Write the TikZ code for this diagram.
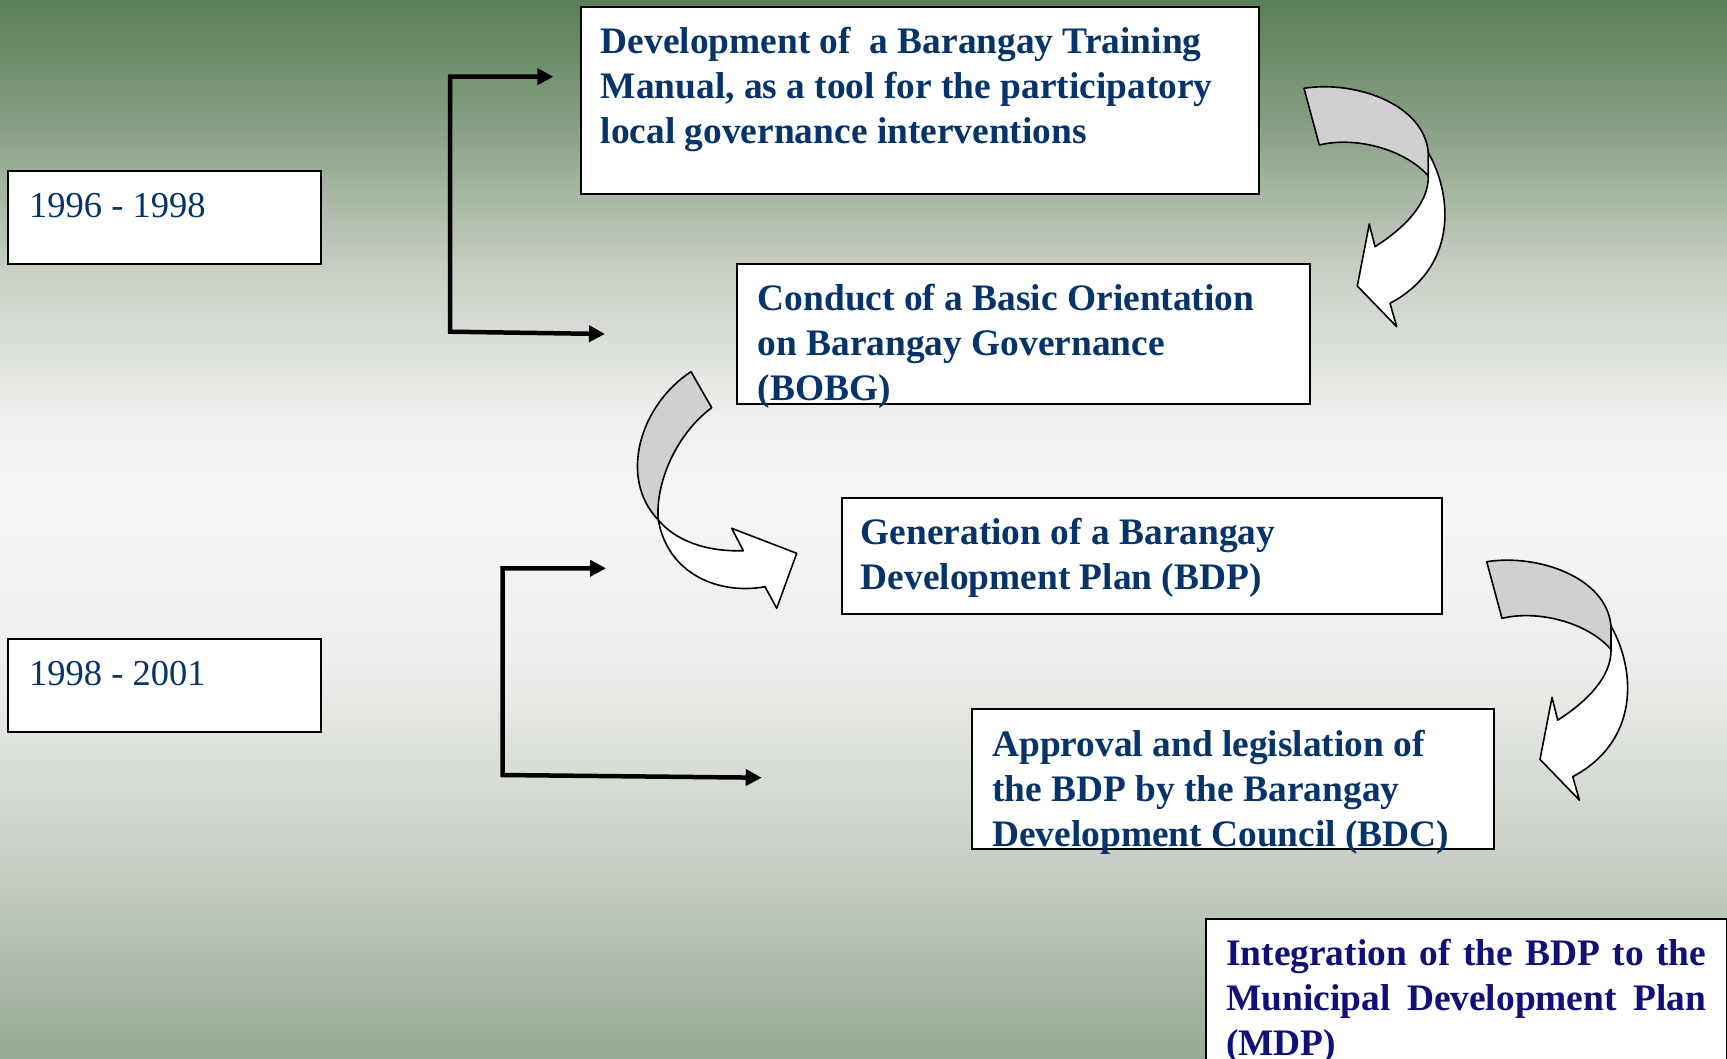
\documentclass[tikz,border=0pt]{standalone}
\usepackage{fontspec}
\setmainfont{Liberation Serif}
\usetikzlibrary{arrows.meta}
\definecolor{tblue}{HTML}{06346A}
\definecolor{tnavy}{HTML}{101078}
\definecolor{fold}{HTML}{D0D0D0}
\definecolor{bgc0}{HTML}{98A896}
\definecolor{bgc1}{HTML}{C4CBC1}
\definecolor{bgc2}{HTML}{EEEFED}
\definecolor{bgc3}{HTML}{F5F5F5}
\definecolor{bgc4}{HTML}{F0F1EF}
\definecolor{bgc5}{HTML}{C6CDC2}
\definecolor{bgc6}{HTML}{809B7D}
\definecolor{bgc7}{HTML}{5A7F56}
\pgfdeclareverticalshading{bgshade}{100bp}{color(0bp)=(bgc0); color(25bp)=(bgc0); color(33.4bp)=(bgc1); color(43.8bp)=(bgc2); color(51.4bp)=(bgc3); color(55.15bp)=(bgc4); color(62.5bp)=(bgc5); color(69.8bp)=(bgc6); color(75bp)=(bgc7); color(100bp)=(bgc7)}
\tikzset{
  box/.style={draw=black, line width=2pt, fill=white, inner sep=0pt, anchor=north west},
  btxt/.style={inner sep=0pt, anchor=base west, text=tblue, font=\bfseries\fontsize{37.4}{45}\selectfont},
  ytxt/.style={inner sep=0pt, anchor=base west, text=tblue, font=\fontsize{36.5}{43}\selectfont},
  elbow/.style={line width=4.5pt, {Triangle[length=16pt,width=16pt]}-{Triangle[length=16pt,width=16pt]}},
  bandfold/.style={fill=fold, draw=black, line width=1.6pt, line join=round},
  bandfront/.style={fill=white, draw=black, line width=1.6pt, line join=round},
  curvedR/.pic={
    \path[bandfold] (0,0) .. controls (50,-8) and (120,15) .. (124.3,64.4)
      -- (124.3,87.7) .. controls (100,60) and (50,48) .. (15.3,56.7) -- cycle;
    \path[bandfront] (124.3,64.4) .. controls (150,110) and (152,180) .. (86,215)
      -- (92.7,238.4) -- (53.3,197.7) -- (65.3,135.7) -- (71,158.4)
      .. controls (100,140) and (125,115) .. (124.3,87.7) -- cycle;
  }
}
\begin{document}
\begin{tikzpicture}[x=1pt,y=-1pt]
\useasboundingbox (0,0) rectangle (1727,1058);
\shade[shading=bgshade] (0,0) rectangle (1727,1058);

% year boxes
\node[box, minimum width=312.7pt, minimum height=92.7pt] (yr1) at (7.3,170) {};
\node[box, minimum width=312.7pt, minimum height=93.6pt] (yr2) at (7.3,637.7) {};
\node[ytxt] (yt1) at (29,217.8) {1996 - 1998};
\node[ytxt] (yt2) at (29,685.5) {1998 - 2001};

% step boxes
\node[box, minimum width=677.5pt, minimum height=187pt] (bA) at (580,6) {};
\node[box, minimum width=573.4pt, minimum height=140pt] (bB) at (736,263.3) {};
\node[box, minimum width=600pt, minimum height=116pt] (bC) at (841,497.3) {};
\node[box, minimum width=521.5pt, minimum height=140pt] (bD) at (971.4,708.3) {};
\node[box, minimum width=520.6pt, minimum height=160pt] (bE) at (1205.4,918.3) {};

\node[btxt] (tA) at (600.5,53) {\parbox[t]{660pt}{Development of\ \ a Barangay Training\\Manual, as a tool for the participatory\\local governance interventions}};
\node[btxt] (tB) at (757.5,310.7) {\parbox[t]{540pt}{Conduct of a Basic Orientation\\on Barangay Governance\\(BOBG)}};
\node[btxt] (tC) at (860.5,544.4) {\parbox[t]{560pt}{Generation of a Barangay\\Development Plan (BDP)}};
\node[btxt] (tD) at (992,756) {\parbox[t]{500pt}{Approval and legislation of\\the BDP by the Barangay\\Development Council (BDC)}};
\node[btxt, text=tnavy] (tE) at (1226,965.5) {\parbox[t]{480pt}{Integration of the BDP to the\linebreak Municipal Development Plan\linebreak (MDP)}};

% elbow connectors
\coordinate (e1a) at (553.3,76.7);
\coordinate (e1b) at (450,76.7);
\coordinate (e1c) at (450,331.7);
\coordinate (e1d) at (605,334);
\draw[elbow] (e1a) -- (e1b) -- (e1c) -- (e1d);
\coordinate (e2a) at (606,568.3);
\coordinate (e2b) at (502.7,568.3);
\coordinate (e2c) at (502.7,775);
\coordinate (e2d) at (761.7,777.7);
\draw[elbow] (e2a) -- (e2b) -- (e2c) -- (e2d);

% curved block arrows
\pic (cv1) at (1304,88.3) {curvedR};
\pic (cv3) at (1486.7,561.7) {curvedR};
\path[bandfold] (691,371.7) .. controls (640,405) and (618,478) .. (658.3,520)
  .. controls (655,485) and (675,435) .. (711.7,407.7) -- cycle;
\path[bandfront] (658.3,520) .. controls (675,540) and (705,552) .. (743.3,550.7)
  -- (731.7,528.3) -- (796.7,553.3) -- (776.7,608.3) -- (765,586.7)
  .. controls (720,595) and (668,575) .. (658.3,520) -- cycle;
\end{tikzpicture}
\end{document}
